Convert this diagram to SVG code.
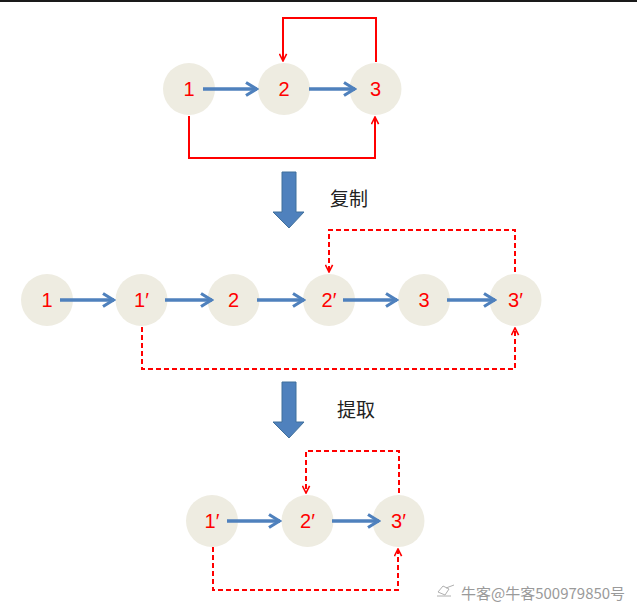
<svg xmlns="http://www.w3.org/2000/svg" width="637" height="606" viewBox="0 0 637 606">
<defs>
<style>
.node circle{fill:#EEECE1;}
.node text{fill:#FF0000;font-family:"Liberation Sans",Arial,sans-serif;font-size:20px;text-anchor:middle;}
.blue{stroke:#4F81BD;stroke-width:3.5;fill:none;marker-end:url(#bh);}
.red{stroke:#FF0000;stroke-width:2;fill:none;marker-end:url(#rh);}
.dash{stroke-dasharray:5 3;}
.big{fill:#4F81BD;stroke:#41719C;stroke-width:1;}
.lbl{font-family:"Noto Sans CJK SC",sans-serif;font-size:19px;fill:#222;}
.wm{font-family:"Noto Sans CJK SC",sans-serif;font-size:15px;fill:#9a9a9a;}
</style>
<marker id="bh" viewBox="0 0 14 16" refX="12.5" refY="8" markerWidth="14" markerHeight="16" markerUnits="userSpaceOnUse" orient="auto">
<path d="M1.5,1.5 L12,8 L1.5,14.5" fill="none" stroke="#4F81BD" stroke-width="3.2" stroke-linejoin="miter"/>
</marker>
<marker id="rh" viewBox="0 0 10 10" refX="9" refY="5" markerWidth="9" markerHeight="9" markerUnits="userSpaceOnUse" orient="auto">
<path d="M1,1 L9,5 L1,9" fill="none" stroke="#FF0000" stroke-width="1.8"/>
</marker>
</defs>
<rect width="637" height="606" fill="#FFFFFF"/>
<rect x="0" y="0" width="637" height="2" fill="#1a1a1a"/>

<g id="n1-top" class="node"><circle cx="189" cy="89" r="26"/><text x="189" y="96">1</text></g>
<g id="n2-top" class="node"><circle cx="284" cy="89" r="26"/><text x="284" y="96">2</text></g>
<g id="n3-top" class="node"><circle cx="375.5" cy="89" r="26"/><text x="375.5" y="96">3</text></g>

<g id="step-copy">
<path class="big" d="M282,172 L296,172 L296,212 L304,212 L289,228 L273,212 L282,212 Z"/>
<text class="lbl" x="330" y="206">复制</text>
</g>

<g id="n1-mid" class="node"><circle cx="47" cy="300" r="26"/><text x="47" y="307">1</text></g>
<g id="n1p-mid" class="node"><circle cx="141.5" cy="300" r="26"/><text x="141.5" y="307">1′</text></g>
<g id="n2-mid" class="node"><circle cx="233.5" cy="300" r="26"/><text x="233.5" y="307">2</text></g>
<g id="n2p-mid" class="node"><circle cx="329" cy="300" r="26"/><text x="329" y="307">2′</text></g>
<g id="n3-mid" class="node"><circle cx="424" cy="300" r="26"/><text x="424" y="307">3</text></g>
<g id="n3p-mid" class="node"><circle cx="515.5" cy="300" r="26"/><text x="515.5" y="307">3′</text></g>

<g id="step-extract">
<path class="big" d="M282,382 L296,382 L296,422 L304,422 L289,438 L273,422 L282,422 Z"/>
<text class="lbl" x="337" y="417">提取</text>
</g>

<g id="n1p-bot" class="node"><circle cx="212" cy="521" r="26"/><text x="212" y="528">1′</text></g>
<g id="n2p-bot" class="node"><circle cx="307.5" cy="521" r="26"/><text x="307.5" y="528">2′</text></g>
<g id="n3p-bot" class="node"><circle cx="398.5" cy="521" r="26"/><text x="398.5" y="528">3′</text></g>

<g id="connectors">
<!-- top row -->
<line class="blue" x1="203" y1="89" x2="257" y2="89"/>
<line class="blue" x1="309" y1="89" x2="355" y2="89"/>
<polyline class="red" points="376,62 376,18 283,18 283,61"/>
<polyline class="red" points="189,116 189,158 375,158 375,117"/>
<!-- middle row -->
<line class="blue" x1="60" y1="300" x2="114" y2="300"/>
<line class="blue" x1="165" y1="300" x2="212" y2="300"/>
<line class="blue" x1="257" y1="300" x2="304" y2="300"/>
<line class="blue" x1="343" y1="300" x2="397" y2="300"/>
<line class="blue" x1="447" y1="300" x2="495" y2="300"/>
<polyline class="red dash" points="515,272 515,230 329,230 329,272"/>
<polyline class="red dash" points="142,327 142,369 515,369 515,328"/>
<!-- bottom row -->
<line class="blue" x1="227" y1="521" x2="280" y2="521"/>
<line class="blue" x1="332" y1="521" x2="379" y2="521"/>
<polyline class="red dash" points="399,493 399,451 306,451 306,493"/>
<polyline class="red dash" points="213,547 213,590 398,590 398,549"/>
</g>

<g id="watermark">
<path d="M438,592 l5,-6 l6,3 l-4,6 z M446,588 l8,-3 M437,596 l14,0" fill="none" stroke="#b0b0b0" stroke-width="1"/>
<text class="wm" x="461" y="599">牛客@牛客500979850号</text>
</g>
</svg>
